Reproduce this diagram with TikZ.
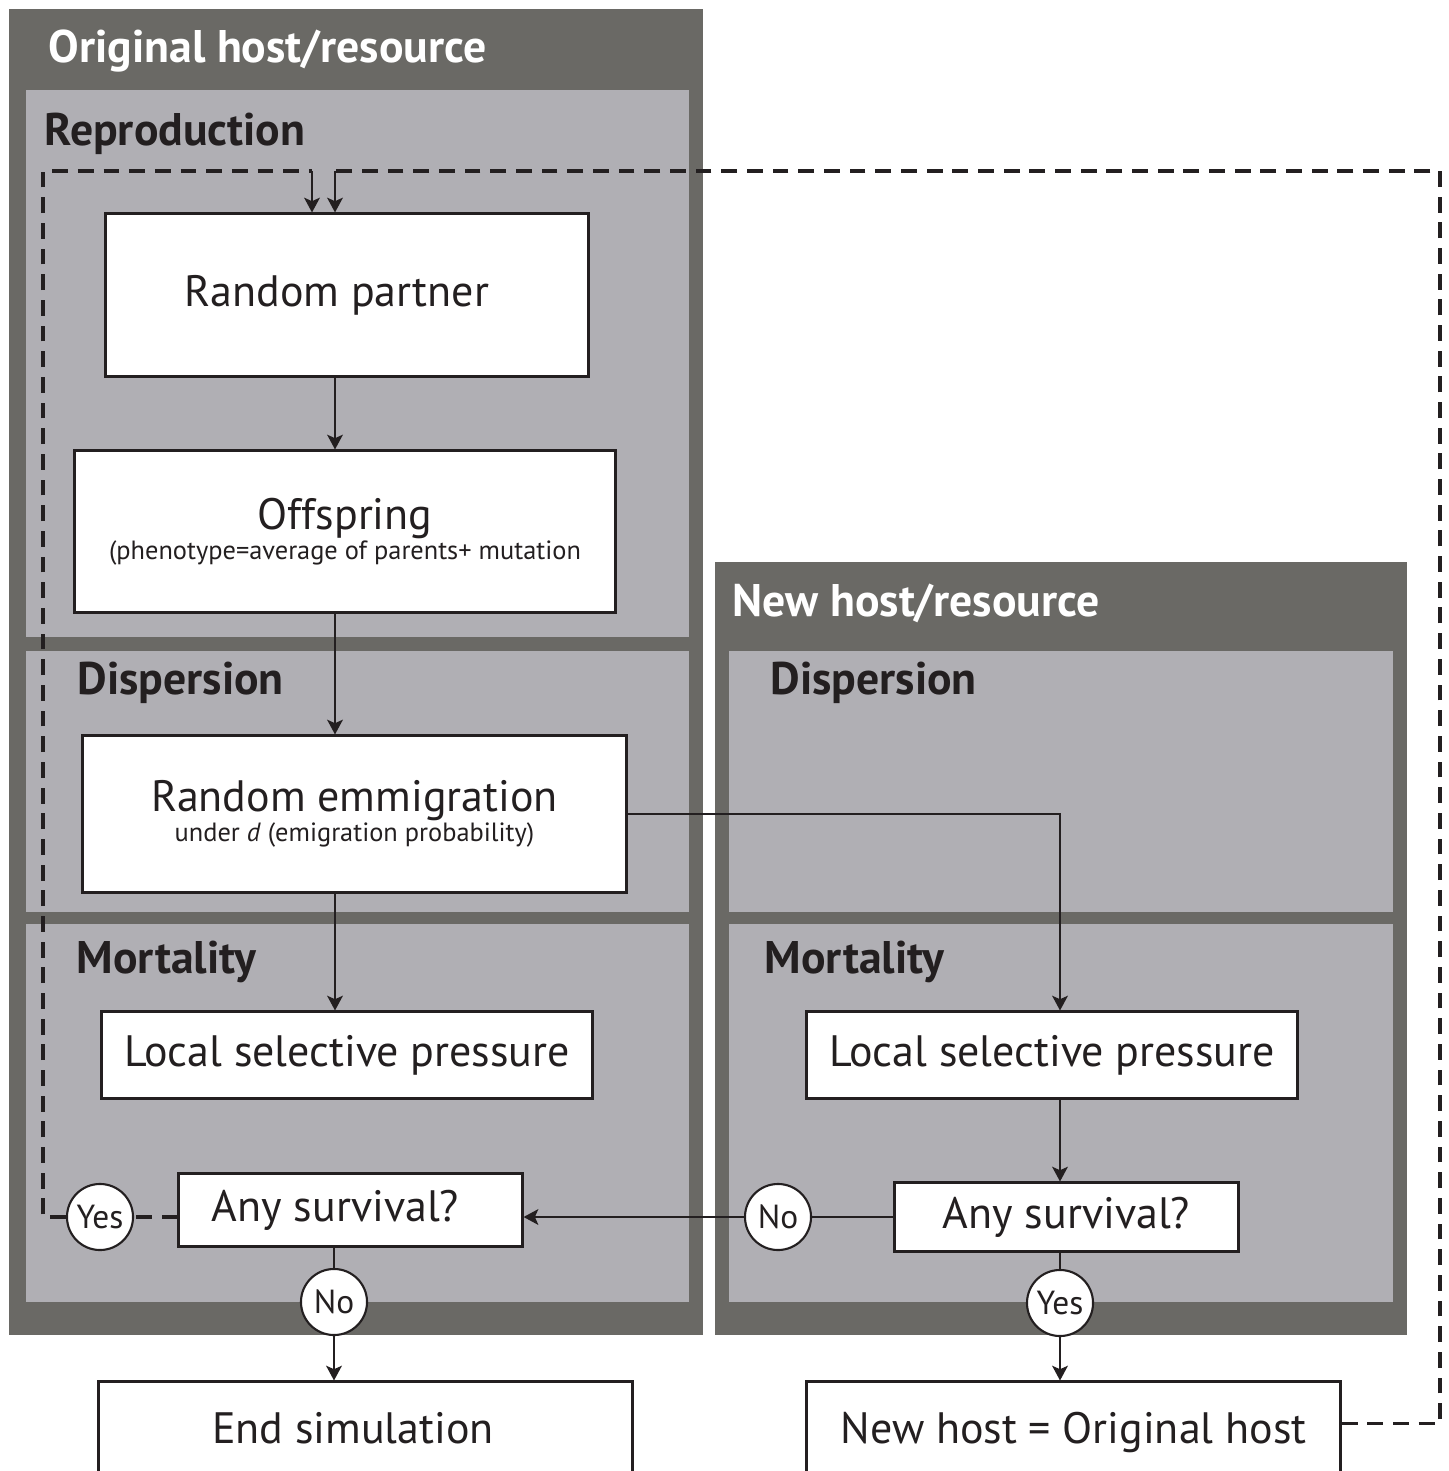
\documentclass[tikz,border=0pt]{standalone}
\usepackage{fontspec}
\setmainfont{PT Sans}
\usetikzlibrary{arrows.meta,positioning}
\definecolor{panelDark}{RGB}{106,105,101}
\definecolor{panelLight}{RGB}{176,175,180}
\definecolor{ink}{RGB}{35,31,32}

\begin{document}
\begin{tikzpicture}[x=0.01cm, y=-0.01cm,
		box/.style={draw=ink, fill=white, line width=0.85pt, inner sep=0pt, align=center, text=ink, font=\fontsize{12.5}{15}\selectfont},
		choice/.style={draw=ink, fill=white, circle, line width=0.6pt, minimum size=0.66cm, inner sep=0pt, text=ink, font=\fontsize{9.5}{11}\selectfont},
		head/.style={anchor=west, inner sep=0pt, text=ink, font=\bfseries\fontsize{13}{15}\selectfont},
		flow/.style={draw=ink, line width=0.45pt, -{Stealth[length=4.2pt, width=4.5pt, inset=1pt]}},
		loopline/.style={draw=ink, line width=1pt, dash pattern=on 4.5pt off 2.8pt}]
		\useasboundingbox (0,0) rectangle (1448,1471);
		\fill[panelDark] (9,9) rectangle (703,1335);
		\fill[panelDark] (715,562) rectangle (1407,1335);
		\fill[panelLight] (26,90) rectangle (689,637);
		\foreach \x/\w in {26/689, 729/1393} {
			\fill[panelLight] (\x,651) rectangle (\w,912);
			\fill[panelLight] (\x,924) rectangle (\w,1302);
		}
		
		\node[head, text=white] (orig) at (48,51) {Original host/resource};
		\node[head, text=white] (newres) at (732,603) {New host/resource};
		\node[head] (repro) at (44,134) {Reproduction};
		\node[head] (dispL) at (77,683) {Dispersion};
		\node[head] (mortL) at (76,962) {Mortality};
		\node[head] (dispR) at (770,683) {Dispersion};
		\node[head] (mortR) at (764,962) {Mortality};
		
		\node[box, minimum width=4.82cm, minimum height=1.62cm] (partner) at (347,295) {Random partner\hspace*{0.2cm}};
		\node[box, minimum width=5.40cm, minimum height=1.61cm] (offspring) at (345,531.5) {Offspring\\[-6.5pt]{\fontsize{7.5}{9}\selectfont (phenotype=average of parents+ mutation}};
		\node[box, minimum width=5.43cm, minimum height=1.56cm] (emig) at (354.5,814) {Random emmigration\\[-6.5pt]{\fontsize{7.5}{9}\selectfont under \textit{d} (emigration probability)}};
		\node[box, minimum width=4.90cm, minimum height=0.86cm] (localL) at (347,1055) {Local selective pressure};
		\node[box, minimum width=4.90cm, minimum height=0.86cm] (localR) at (1052,1055) {Local selective pressure};
		\node[box, minimum width=3.43cm, minimum height=0.72cm] (survL) at (350.5,1210) {Any survival?\hspace*{0.3cm}};
		\node[box, minimum width=3.43cm, minimum height=0.68cm] (survR) at (1066.5,1217) {Any survival?};
		\node[box, minimum width=5.33cm, minimum height=0.92cm] (endsim) at (365.5,1428) {End simulation\hspace*{0.25cm}};
		\node[box, minimum width=5.33cm, minimum height=1.00cm] (newhost) at (1073.5,1432) {New host = Original host};
		
		\node[choice] (yesL) at (100,1217) {Yes};
		\node[choice] (noL) at (334,1302) {No};
		\node[choice] (noR) at (778,1217) {No};
		\node[choice] (yesR) at (1060,1303) {Yes};
		
		\coordinate (spine) at (335,0);
		\coordinate (loopL) at (43,171);
		\coordinate (loopR) at (1440,171);
		\coordinate (dropL) at (312,171);
		\coordinate (dropR) at (335,171);
		
		\draw[flow] (partner.south -| spine) -- (offspring.north -| spine);
		\draw[flow] (offspring.south -| spine) -- (emig.north -| spine);
		\draw[flow] (emig.south -| spine) -- (localL.north -| spine);
		\draw[flow] (emig.east) -| (localR.north -| yesR);
		\draw[flow] (localR.south -| yesR) -- (survR.north -| yesR);
		
		\draw[draw=ink, line width=0.45pt] (survR.west) -- (noR.east);
		\draw[flow] (noR.west) -- (survL.east |- noR);
		\draw[draw=ink, line width=0.45pt] (survL.south -| noL) -- (noL.north);
		\draw[flow] (noL.south) -- (endsim.north -| noL);
		\draw[draw=ink, line width=0.45pt] (survR.south -| yesR) -- (yesR.north);
		\draw[flow] (yesR.south) -- (newhost.north -| yesR);
		
		\draw[loopline] (survL.west |- yesL) -- (yesL.east);
		\draw[loopline] (yesL.west) -| (loopL) -- (dropL);
		\draw[loopline] (newhost.north east) ++(0,43) -| (loopR) -- (dropR);
		\draw[flow] (dropL) -- (dropL |- partner.north);
		\draw[flow] (dropR) -- (dropR |- partner.north);
	\end{tikzpicture}
\end{document}
